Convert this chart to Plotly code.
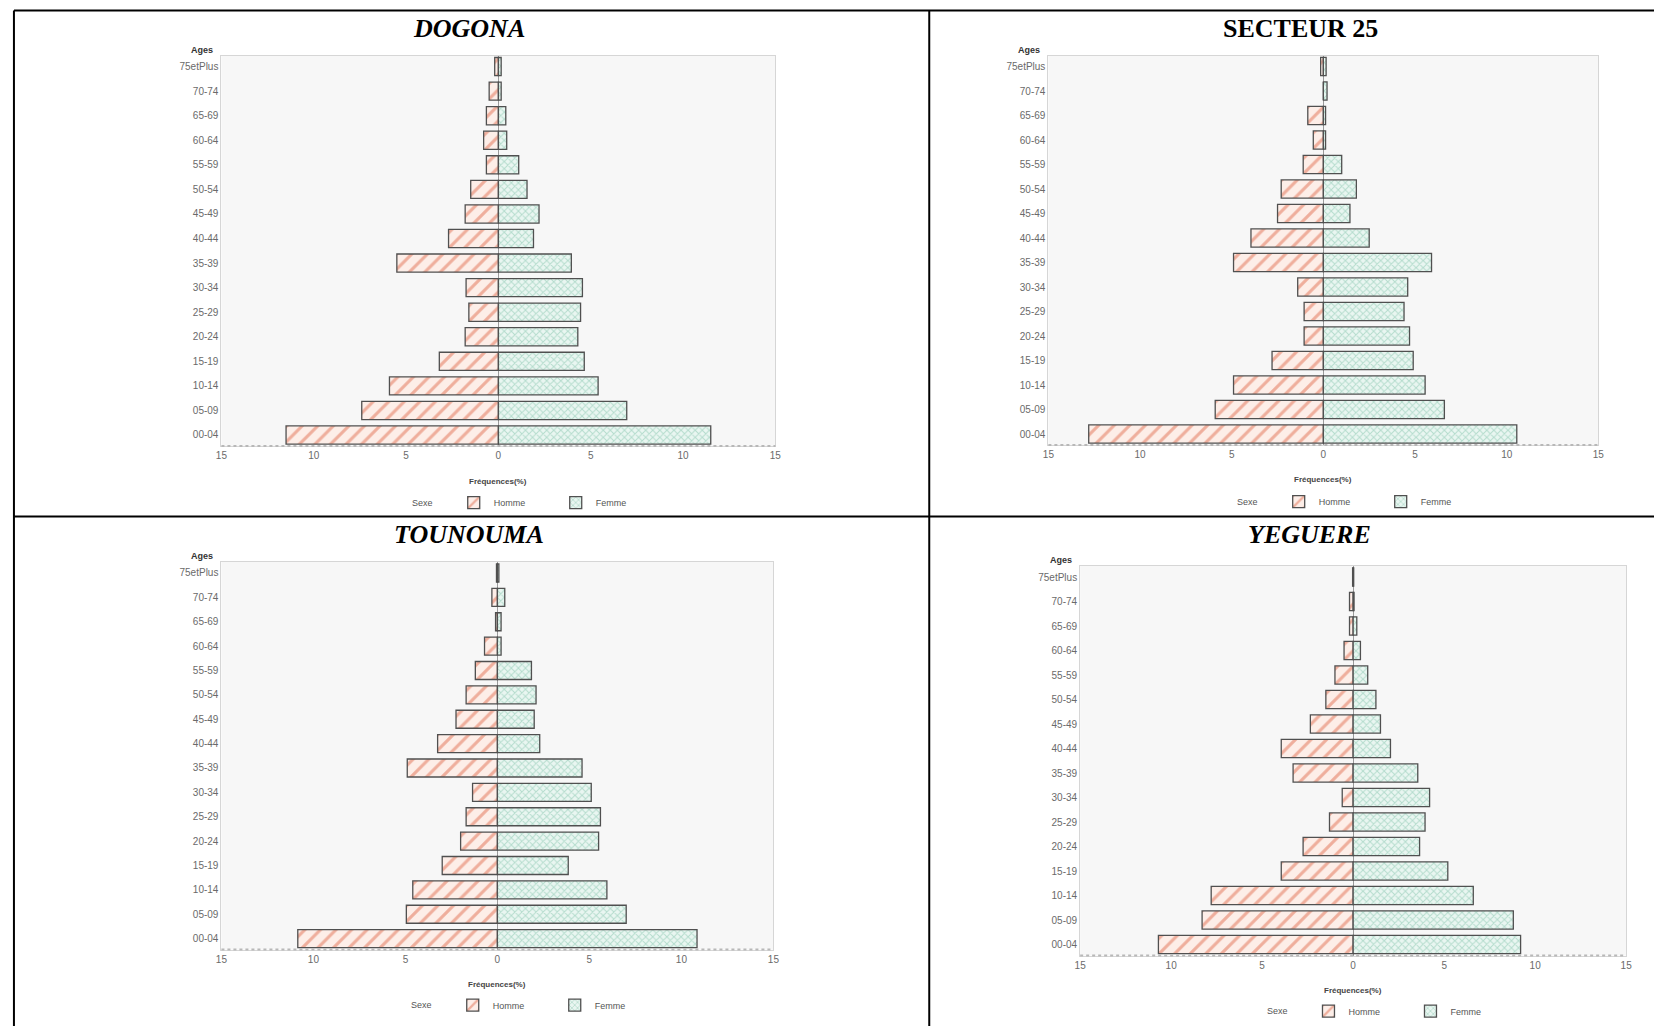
import plotly.graph_objects as go

# ---------------- data ----------------
ages = ["00-04", "05-09", "10-14", "15-19", "20-24", "25-29", "30-34", "35-39",
        "40-44", "45-49", "50-54", "55-59", "60-64", "65-69", "70-74", "75etPlus"]
x_tickvals = [-15, -10, -5, 0, 5, 10, 15]
x_ticktext = ["15", "10", "5", "0", "5", "10", "15"]

dogona_homme = [11.5, 7.4, 5.9, 3.2, 1.8, 1.6, 1.75, 5.5, 2.7, 1.8, 1.5, 0.65, 0.8, 0.65, 0.5, 0.2]
dogona_femme = [11.5, 6.95, 5.4, 4.65, 4.3, 4.45, 4.55, 3.95, 1.9, 2.2, 1.55, 1.1, 0.45, 0.4, 0.15, 0.15]

secteur_homme = [12.8, 5.9, 4.9, 2.8, 1.05, 1.05, 1.4, 4.9, 3.95, 2.5, 2.3, 1.1, 0.55, 0.85, 0.0, 0.15]
secteur_femme = [10.55, 6.6, 5.55, 4.9, 4.7, 4.4, 4.6, 5.9, 2.5, 1.45, 1.8, 1.0, 0.12, 0.12, 0.2, 0.15]

tounouma_homme = [10.85, 4.95, 4.6, 3.0, 2.0, 1.7, 1.35, 4.9, 3.25, 2.25, 1.7, 1.2, 0.7, 0.1, 0.3, 0.05]
tounouma_femme = [10.85, 7.0, 5.95, 3.85, 5.5, 5.6, 5.1, 4.6, 2.3, 2.0, 2.1, 1.85, 0.2, 0.2, 0.4, 0.08]

yeguere_homme = [10.7, 8.3, 7.8, 3.95, 2.75, 1.3, 0.6, 3.3, 3.95, 2.35, 1.5, 1.0, 0.5, 0.2, 0.2, 0.03]
yeguere_femme = [9.2, 8.8, 6.6, 5.2, 3.65, 3.95, 4.2, 3.55, 2.05, 1.5, 1.25, 0.8, 0.4, 0.2, 0.05, 0.03]

titles = ["<b><i>DOGONA</i></b>", "<b>SECTEUR 25</b>", "<b><i>TOUNOUMA</i></b>", "<b><i>YEGUERE</i></b>"]
series = [(dogona_homme, dogona_femme), (secteur_homme, secteur_femme),
          (tounouma_homme, tounouma_femme), (yeguere_homme, yeguere_femme)]

# ---------------- layout geometry (pixels) ----------------
W, H = 1654, 1026


def px(x):
    return x / W


def py(y):
    return 1 - y / H


geom = [
    dict(x0=217, x1=775, y0=56, y1=450, tx=466, ty=29, fy=486, ly=507),
    dict(x0=1050, x1=1604, y0=56, y1=449, tx=1304, ty=29, fy=484, ly=506),
    dict(x0=217, x1=773, y0=567, y1=958, tx=466, ty=539, fy=993, ly=1014),
    dict(x0=1082, x1=1632, y0=571, y1=964, tx=1313, ty=539, fy=999, ly=1020),
]

HOMME_FILL = "#fdeee8"
HOMME_LINE = "#efae9c"
FEMME_FILL = "#e9f6f1"
FEMME_LINE = "#b4dccd"
EDGE = "#505050"
SANS = "Liberation Sans, Arial, sans-serif"
TICK_FONT = dict(family=SANS, size=10, color="#6a6a6a")

fig = go.Figure()
layout = dict(
    width=W, height=H,
    margin=dict(l=0, r=0, t=0, b=0),
    paper_bgcolor="white",
    plot_bgcolor="#f7f7f7",
    barmode="overlay",
    annotations=[],
    shapes=[],
)

for i, (g, (hom, fem), title) in enumerate(zip(geom, series, titles)):
    n = i + 1
    xa = "x" if n == 1 else f"x{n}"
    ya = "y" if n == 1 else f"y{n}"
    leg = "legend" if n == 1 else f"legend{n}"
    fig.add_trace(go.Bar(
        x=[-v for v in hom], y=ages, orientation="h", name="Homme",
        xaxis=xa, yaxis=ya, legend=leg, width=0.74,
        marker=dict(color=HOMME_FILL, line=dict(color=EDGE, width=1.3),
                    pattern=dict(shape="/", fgcolor=HOMME_LINE, bgcolor=HOMME_FILL,
                                 size=11, solidity=0.28, fillmode="replace")),
    ))
    fig.add_trace(go.Bar(
        x=fem, y=ages, orientation="h", name="Femme",
        xaxis=xa, yaxis=ya, legend=leg, width=0.74,
        marker=dict(color=FEMME_FILL, line=dict(color=EDGE, width=1.3),
                    pattern=dict(shape="x", fgcolor=FEMME_LINE, bgcolor=FEMME_FILL,
                                 size=5, solidity=0.35, fillmode="replace")),
    ))
    xkey = "xaxis" if n == 1 else f"xaxis{n}"
    ykey = "yaxis" if n == 1 else f"yaxis{n}"
    layout[xkey] = dict(
        domain=[px(g["x0"]), px(g["x1"])], anchor=ya, range=[-15, 15],
        tickvals=x_tickvals, ticktext=x_ticktext, tickfont=TICK_FONT,
        showgrid=False, zeroline=True, zerolinecolor="#9a9a9a", zerolinewidth=1,
        showline=True, linecolor="#d6d6d6", linewidth=1, mirror=True, ticks="",
        fixedrange=True,
    )
    layout[ykey] = dict(
        domain=[py(g["y1"]), py(g["y0"])], anchor=xa, type="category",
        categoryorder="array", categoryarray=ages, range=[-0.45, 15.45],
        tickfont=TICK_FONT, showgrid=False, zeroline=False,
        showline=True, linecolor="#d6d6d6", linewidth=1, mirror=True, ticks="",
        fixedrange=True,
    )
    zero_px = (g["x0"] + g["x1"]) / 2
    homme_center = zero_px - 25
    layout[leg] = dict(
        orientation="h", x=px(homme_center - 20), xanchor="left", y=py(g["ly"]), yanchor="middle",
        font=dict(family=SANS, size=9, color="#555"),
        bgcolor="rgba(0,0,0,0)", itemwidth=30, traceorder="normal",
        entrywidth=57, entrywidthmode="pixels",
    )
    # legend caption
    layout["annotations"].append(dict(
        text="Sexe", x=px(zero_px - 76), y=py(g["ly"]), xref="paper", yref="paper",
        showarrow=False, xanchor="center", yanchor="middle",
        font=dict(family=SANS, size=9, color="#555"),
    ))
    # dotted bottom axis line
    layout["shapes"].append(dict(
        type="line", xref=f"{xa} domain", yref=f"{ya} domain", x0=0, x1=1, y0=0, y1=0,
        line=dict(color="#b8b8b8", width=2, dash="dot"), layer="above",
    ))
    # panel title
    layout["annotations"].append(dict(
        text=title, x=px(g["tx"]), y=py(g["ty"]), xref="paper", yref="paper",
        showarrow=False, xanchor="center", yanchor="middle",
        font=dict(family="Liberation Serif, Times New Roman, serif", size=26, color="black"),
    ))
    # "Ages" label
    layout["annotations"].append(dict(
        text="<b>Ages</b>", x=px(g["x0"] - 6), y=py(g["y0"] - 6), xref="paper", yref="paper",
        showarrow=False, xanchor="right", yanchor="middle",
        font=dict(family=SANS, size=9, color="#333"),
    ))
    # x axis title
    layout["annotations"].append(dict(
        text="<b>Fréquences(%)</b>", x=px(zero_px), y=py(g["fy"]),
        xref="paper", yref="paper", showarrow=False, xanchor="center", yanchor="middle",
        font=dict(family=SANS, size=8, color="#444"),
    ))

# table borders
BL = dict(color="black", width=2)
Y_TOP, Y_MID, X_LEFT, X_MID = 10.7, 521, 8, 930
layout["shapes"] += [
    dict(type="line", xref="paper", yref="paper", x0=px(X_LEFT), x1=px(W + 10), y0=py(Y_TOP), y1=py(Y_TOP), line=BL),
    dict(type="line", xref="paper", yref="paper", x0=px(X_LEFT), x1=px(W + 10), y0=py(Y_MID), y1=py(Y_MID), line=BL),
    dict(type="line", xref="paper", yref="paper", x0=px(X_LEFT), x1=px(X_LEFT), y0=py(Y_TOP), y1=py(H + 10), line=BL),
    dict(type="line", xref="paper", yref="paper", x0=px(X_MID), x1=px(X_MID), y0=py(Y_TOP), y1=py(H + 10), line=BL),
]

fig.update_layout(**layout)
fig.write_html("out.html", config=dict(displayModeBar=False),
               post_script="document.body.style.margin='0';document.body.style.overflow='hidden';")
